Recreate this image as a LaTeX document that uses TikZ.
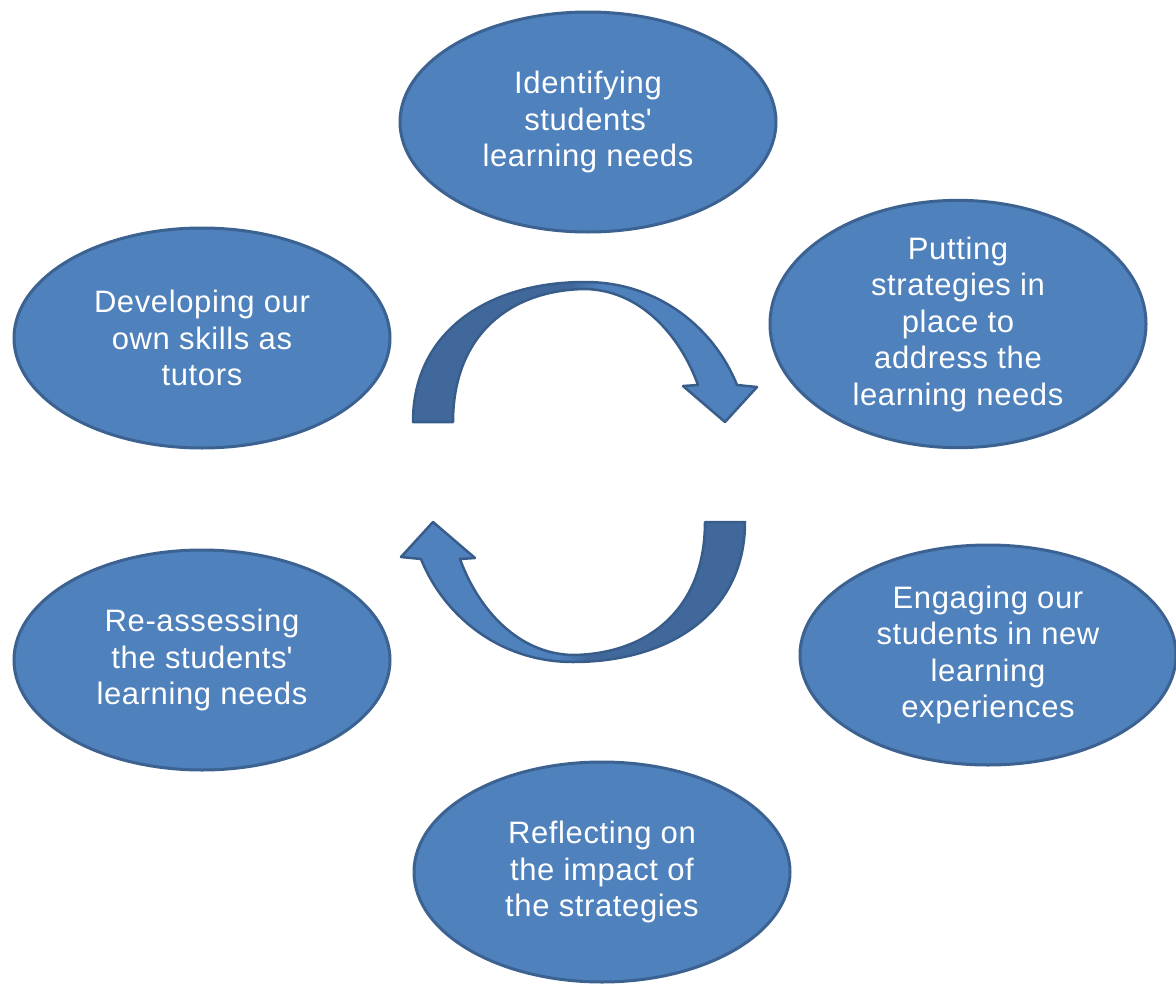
\documentclass[tikz,border=0pt]{standalone}
\usepackage{fontspec}
\setmainfont{Liberation Sans}
\usetikzlibrary{shapes.geometric}
\definecolor{ellfill}{HTML}{4F81BD}
\definecolor{ellline}{HTML}{3B6291}
\definecolor{arrdark}{HTML}{41689B}
\definecolor{arrlight}{HTML}{4F81BD}
\definecolor{arrline}{HTML}{395D8B}
\pgfdeclarehorizontalshading{arcshade}{100bp}{color(0bp)=(arrdark); color(48bp)=(arrdark); color(52bp)=(arrlight); color(100bp)=(arrlight)}
\newcommand\cyclearrowpath{(413,422) .. controls (413,330) and (490,282) .. (585,282) .. controls (660,282) and (715,330) .. (737,385) -- (757,387) -- (725,422) -- (683,386) -- (698,385) .. controls (680,335) and (640,290) .. (585,289) .. controls (510,290) and (453,335) .. (453,422) -- cycle}
\begin{document}
\begin{tikzpicture}[x=1pt,y=-1pt,
  stage/.style={ellipse, draw=ellline, line width=3pt, fill=ellfill,
    minimum width=376pt, minimum height=220pt, inner sep=0pt, align=center,
    text=white, font=\addfontfeatures{LetterSpace=2}\fontsize{31}{36.5}\selectfont},
  cyclearrow/.style={draw=arrline, line width=2.5pt, line join=round, shading=arcshade}]
\useasboundingbox (0,0) rectangle (1176,985);
\node[stage] (identify) at (588,122) {Identifying\\students\textquotesingle\\learning needs};
\node[stage] (putting) at (958,324) {Putting\\strategies in\\place to\\address the\\learning needs};
\node[stage] (developing) at (202,338) {Developing our\\own skills as\\tutors};
\node[stage] (engaging) at (988,655) {Engaging our\\students in new\\learning\\experiences};
\node[stage] (reassess) at (202,660) {Re-assessing\\the students\textquotesingle\\learning needs};
\node[stage] (reflect) at (602,872) {Reflecting on\\the impact of\\the strategies};
\shade[cyclearrow] \cyclearrowpath;
\begin{scope}[rotate around={180:(579,472)}]
\shade[cyclearrow, shading angle=180] \cyclearrowpath;
\end{scope}
\end{tikzpicture}
\end{document}
